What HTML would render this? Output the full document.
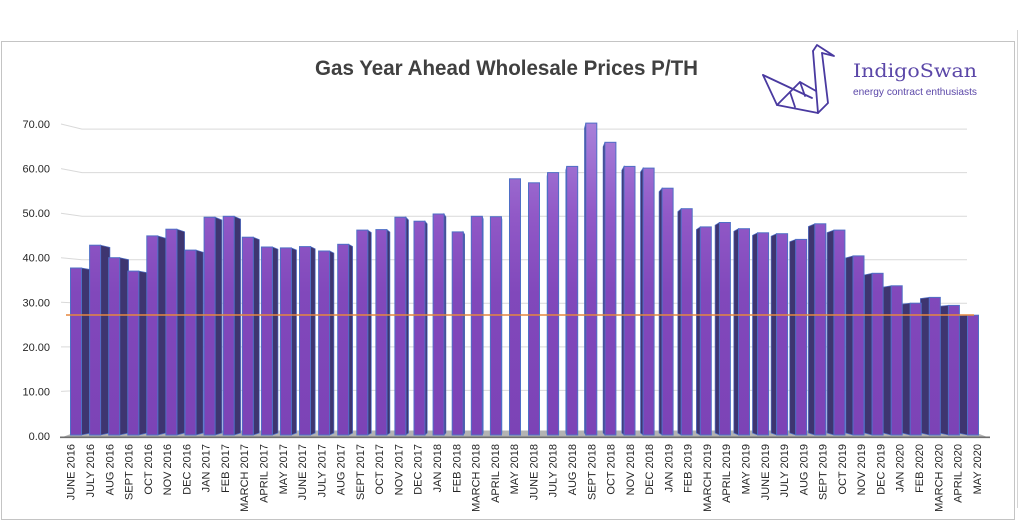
<!DOCTYPE html>
<html>
<head>
<meta charset="utf-8">
<style>
html,body{margin:0;padding:0;background:#fff;}
svg{display:block;}
text{font-family:"Liberation Sans",Arial,sans-serif;}
</style>
</head>
<body>
<svg width="1019" height="522" viewBox="0 0 1019 522" xmlns="http://www.w3.org/2000/svg">
<defs>
<linearGradient id="fg" gradientUnits="userSpaceOnUse" x1="0" y1="120" x2="0" y2="436">
<stop offset="0" stop-color="#a982da"/>
<stop offset="0.3" stop-color="#9159c7"/>
<stop offset="0.55" stop-color="#8148bb"/>
<stop offset="1" stop-color="#7c43b6"/>
</linearGradient>
</defs>
<rect x="0" y="0" width="1019" height="522" fill="#fff"/>
<rect x="1.5" y="41.5" width="1013" height="478" fill="none" stroke="#c4c4c4" stroke-width="1"/>
<line x1="1017.5" y1="30" x2="1017.5" y2="508" stroke="#d4d4d4" stroke-width="1"/>

<!-- title -->
<text x="506.5" y="75" text-anchor="middle" font-size="21.5" font-weight="bold" fill="#404040" textLength="383" lengthAdjust="spacingAndGlyphs">Gas Year Ahead Wholesale Prices P/TH</text>

<!-- logo -->
<g fill="none" stroke="#4a3aa0" stroke-width="1.8" stroke-linejoin="round" stroke-linecap="round">
<polyline points="813,51 817,45 834,56 822,53"/>
<line x1="813" y1="51" x2="818" y2="113"/>
<polyline points="822,53 828,103 818,113"/>
<polyline points="763,75 777,105 818,113"/>
<line x1="763" y1="75" x2="812" y2="98"/>
<polyline points="777,105 790,92 800,82 816,91"/>
<line x1="790" y1="92" x2="795" y2="107"/>
<line x1="800" y1="82" x2="805" y2="96"/>
</g>
<text x="853" y="77" style="font-family:'DejaVu Serif','Liberation Serif',serif;" font-size="19" fill="#5b47a8" textLength="124" lengthAdjust="spacingAndGlyphs">IndigoSwan</text>
<text x="853" y="95" font-size="10.5" fill="#5b47a8" textLength="124" lengthAdjust="spacingAndGlyphs">energy contract enthusiasts</text>

<!-- gridlines -->
<g fill="none" stroke="#d9d9d9" stroke-width="1">
<polyline points="61,124 82,129.1 967,129.1"/>
<polyline points="61,168.6 82,172.6 967,172.6"/>
<polyline points="61,213.2 82,216.2 967,216.2"/>
<polyline points="61,257.7 82,259.7 967,259.7"/>
<polyline points="61,302.3 82,303.3 967,303.3"/>
<polyline points="61,346.9 82,346.9 967,346.9"/>
<polyline points="61,391.4 82,390.4 967,390.4"/>
</g>

<!-- y labels -->
<g font-size="11" fill="#262626" text-anchor="end">
<text x="50" y="128">70.00</text>
<text x="50" y="172.6">60.00</text>
<text x="50" y="217.2">50.00</text>
<text x="50" y="261.7">40.00</text>
<text x="50" y="306.3">30.00</text>
<text x="50" y="350.9">20.00</text>
<text x="50" y="395.4">10.00</text>
<text x="50" y="440">0.00</text>
</g>

<!-- floor -->
<polygon points="60,438 990,438 970,430.5 80,430.5" fill="#b3b3b3"/>
<line x1="60" y1="437.3" x2="990" y2="437.3" stroke="#6e6e6e" stroke-width="1.6"/>

<!-- side faces -->
<g fill="#3e3570" stroke="#4f6fc6" stroke-width="0.7">
<polygon points="81.5,268 91.3,269.7 91.3,433 81.5,435"/>
<polygon points="100.6,245.2 109.9,247.4 109.9,433 100.6,435"/>
<polygon points="119.7,257.7 128.6,259.6 128.6,433 119.7,435"/>
<polygon points="138.8,271.1 147.3,272.7 147.3,433 138.8,435"/>
<polygon points="157.8,235.9 165.9,238.3 165.9,433 157.8,435"/>
<polygon points="176.9,229.2 184.6,231.7 184.6,433 176.9,435"/>
<polygon points="196,250.1 203.2,252.2 203.2,433 196,435"/>
<polygon points="215.1,217.2 221.9,220 221.9,433 215.1,435"/>
<polygon points="234.2,216.3 240.6,219.1 240.6,433 234.2,435"/>
<polygon points="253.3,237.2 259.3,239.6 259.3,433 253.3,435"/>
<polygon points="272.4,247 278,249.2 278,433 272.4,435"/>
<polygon points="291.4,247.9 296.5,250 296.5,433 291.4,435"/>
<polygon points="310.5,246.6 315.2,248.8 315.2,433 310.5,435"/>
<polygon points="329.6,251 333.9,253.1 333.9,433 329.6,435"/>
<polygon points="348.7,244.3 352.6,246.5 352.6,433 348.7,435"/>
<polygon points="367.8,230.1 371.3,232.6 371.3,433 367.8,435"/>
<polygon points="386.9,229.6 389.9,232.1 389.9,433 386.9,435"/>
<polygon points="405.9,217.2 408.5,220 408.5,433 405.9,435"/>
<polygon points="425,221.2 427.2,223.9 427.2,433 425,435"/>
<polygon points="444.1,214 445.9,216.9 445.9,433 444.1,435"/>
<polygon points="463.2,231.9 464.6,234.4 464.6,433 463.2,435"/>
<polygon points="482.3,216.3 483.2,219.1 483.2,433 482.3,435"/>
<polygon points="501.4,216.7 501.9,219.5 501.9,433 501.4,435"/>
<polygon points="547.6,172.6 547.1,176.4 547.1,433 547.6,435"/>
<polygon points="566.7,166.4 565.8,170.3 565.8,433 566.7,435"/>
<polygon points="585.8,123.1 584.5,128 584.5,433 585.8,435"/>
<polygon points="604.9,142.3 603.1,146.8 603.1,433 604.9,435"/>
<polygon points="624,166.4 621.8,170.3 621.8,433 624,435"/>
<polygon points="643.1,168.1 640.5,172 640.5,433 643.1,435"/>
<polygon points="662.1,188.2 659.1,191.7 659.1,433 662.1,435"/>
<polygon points="681.2,208.7 677.8,211.7 677.8,433 681.2,435"/>
<polygon points="700.3,226.9 696.4,229.5 696.4,433 700.3,435"/>
<polygon points="719.4,222.5 715.1,225.2 715.1,433 719.4,435"/>
<polygon points="738.5,228.7 733.8,231.3 733.8,433 738.5,435"/>
<polygon points="757.6,232.8 752.5,235.3 752.5,433 757.6,435"/>
<polygon points="776.6,233.7 771.1,236.2 771.1,433 776.6,435"/>
<polygon points="795.7,239.4 789.7,241.7 789.7,433 795.7,435"/>
<polygon points="814.8,223.8 808.4,226.5 808.4,433 814.8,435"/>
<polygon points="833.9,230.1 827.1,232.6 827.1,433 833.9,435"/>
<polygon points="853,255.9 845.8,257.9 845.8,433 853,435"/>
<polygon points="872.1,273.3 864.5,274.9 864.5,433 872.1,435"/>
<polygon points="891.2,285.8 883.1,287.1 883.1,433 891.2,435"/>
<polygon points="910.2,303.2 901.7,304.1 901.7,433 910.2,435"/>
<polygon points="929.3,297.4 920.4,298.5 920.4,433 929.3,435"/>
<polygon points="948.4,305.4 939.1,306.3 939.1,433 948.4,435"/>
<polygon points="967.5,315.2 957.8,315.9 957.8,433 967.5,435"/>
</g>

<!-- front faces -->
<g fill="url(#fg)" stroke="#4f6fc6" stroke-width="1">
<rect x="70.5" y="268" width="11" height="167"/>
<rect x="89.6" y="245.2" width="11" height="189.8"/>
<rect x="108.7" y="257.7" width="11" height="177.3"/>
<rect x="127.8" y="271.1" width="11" height="163.9"/>
<rect x="146.8" y="235.9" width="11" height="199.1"/>
<rect x="165.9" y="229.2" width="11" height="205.8"/>
<rect x="185" y="250.1" width="11" height="184.9"/>
<rect x="204.1" y="217.2" width="11" height="217.8"/>
<rect x="223.2" y="216.3" width="11" height="218.7"/>
<rect x="242.3" y="237.2" width="11" height="197.8"/>
<rect x="261.4" y="247" width="11" height="188"/>
<rect x="280.4" y="247.9" width="11" height="187.1"/>
<rect x="299.5" y="246.6" width="11" height="188.4"/>
<rect x="318.6" y="251" width="11" height="184"/>
<rect x="337.7" y="244.3" width="11" height="190.7"/>
<rect x="356.8" y="230.1" width="11" height="204.9"/>
<rect x="375.9" y="229.6" width="11" height="205.4"/>
<rect x="394.9" y="217.2" width="11" height="217.8"/>
<rect x="414" y="221.2" width="11" height="213.8"/>
<rect x="433.1" y="214" width="11" height="221"/>
<rect x="452.2" y="231.9" width="11" height="203.1"/>
<rect x="471.3" y="216.3" width="11" height="218.7"/>
<rect x="490.4" y="216.7" width="11" height="218.3"/>
<rect x="509.5" y="178.8" width="11" height="256.2"/>
<rect x="528.5" y="182.8" width="11" height="252.2"/>
<rect x="547.6" y="172.6" width="11" height="262.4"/>
<rect x="566.7" y="166.4" width="11" height="268.6"/>
<rect x="585.8" y="123.1" width="11" height="311.9"/>
<rect x="604.9" y="142.3" width="11" height="292.7"/>
<rect x="624" y="166.4" width="11" height="268.6"/>
<rect x="643.1" y="168.1" width="11" height="266.9"/>
<rect x="662.1" y="188.2" width="11" height="246.8"/>
<rect x="681.2" y="208.7" width="11" height="226.3"/>
<rect x="700.3" y="226.9" width="11" height="208.1"/>
<rect x="719.4" y="222.5" width="11" height="212.5"/>
<rect x="738.5" y="228.7" width="11" height="206.3"/>
<rect x="757.6" y="232.8" width="11" height="202.2"/>
<rect x="776.6" y="233.7" width="11" height="201.3"/>
<rect x="795.7" y="239.4" width="11" height="195.6"/>
<rect x="814.8" y="223.8" width="11" height="211.2"/>
<rect x="833.9" y="230.1" width="11" height="204.9"/>
<rect x="853" y="255.9" width="11" height="179.1"/>
<rect x="872.1" y="273.3" width="11" height="161.7"/>
<rect x="891.2" y="285.8" width="11" height="149.2"/>
<rect x="910.2" y="303.2" width="11" height="131.8"/>
<rect x="929.3" y="297.4" width="11" height="137.6"/>
<rect x="948.4" y="305.4" width="11" height="129.6"/>
<rect x="967.5" y="315.2" width="11" height="119.8"/>
</g>

<!-- reference line -->
<line x1="66" y1="315" x2="974" y2="315" stroke="#e5873f" stroke-width="1.5"/>

<!-- x labels -->
<g font-size="11" fill="#262626" text-anchor="end">
<text transform="translate(74.7,444) rotate(-90)">JUNE 2016</text>
<text transform="translate(94,444) rotate(-90)">JULY 2016</text>
<text transform="translate(113.3,444) rotate(-90)">AUG 2016</text>
<text transform="translate(132.5,444) rotate(-90)">SEPT 2016</text>
<text transform="translate(151.8,444) rotate(-90)">OCT 2016</text>
<text transform="translate(171.1,444) rotate(-90)">NOV 2016</text>
<text transform="translate(190.4,444) rotate(-90)">DEC 2016</text>
<text transform="translate(209.7,444) rotate(-90)">JAN 2017</text>
<text transform="translate(228.9,444) rotate(-90)">FEB 2017</text>
<text transform="translate(248.2,444) rotate(-90)">MARCH 2017</text>
<text transform="translate(267.5,444) rotate(-90)">APRIL 2017</text>
<text transform="translate(286.8,444) rotate(-90)">MAY 2017</text>
<text transform="translate(306.1,444) rotate(-90)">JUNE 2017</text>
<text transform="translate(325.3,444) rotate(-90)">JULY 2017</text>
<text transform="translate(344.6,444) rotate(-90)">AUG 2017</text>
<text transform="translate(363.9,444) rotate(-90)">SEPT 2017</text>
<text transform="translate(383.2,444) rotate(-90)">OCT 2017</text>
<text transform="translate(402.5,444) rotate(-90)">NOV 2017</text>
<text transform="translate(421.7,444) rotate(-90)">DEC 2017</text>
<text transform="translate(441,444) rotate(-90)">JAN 2018</text>
<text transform="translate(460.3,444) rotate(-90)">FEB 2018</text>
<text transform="translate(479.6,444) rotate(-90)">MARCH 2018</text>
<text transform="translate(498.9,444) rotate(-90)">APRIL 2018</text>
<text transform="translate(518.1,444) rotate(-90)">MAY 2018</text>
<text transform="translate(537.4,444) rotate(-90)">JUNE 2018</text>
<text transform="translate(556.7,444) rotate(-90)">JULY 2018</text>
<text transform="translate(576,444) rotate(-90)">AUG 2018</text>
<text transform="translate(595.3,444) rotate(-90)">SEPT 2018</text>
<text transform="translate(614.5,444) rotate(-90)">OCT 2018</text>
<text transform="translate(633.8,444) rotate(-90)">NOV 2018</text>
<text transform="translate(653.1,444) rotate(-90)">DEC 2018</text>
<text transform="translate(672.4,444) rotate(-90)">JAN 2019</text>
<text transform="translate(691.7,444) rotate(-90)">FEB 2019</text>
<text transform="translate(710.9,444) rotate(-90)">MARCH 2019</text>
<text transform="translate(730.2,444) rotate(-90)">APRIL 2019</text>
<text transform="translate(749.5,444) rotate(-90)">MAY 2019</text>
<text transform="translate(768.8,444) rotate(-90)">JUNE 2019</text>
<text transform="translate(788.1,444) rotate(-90)">JULY 2019</text>
<text transform="translate(807.3,444) rotate(-90)">AUG 2019</text>
<text transform="translate(826.6,444) rotate(-90)">SEPT 2019</text>
<text transform="translate(845.9,444) rotate(-90)">OCT 2019</text>
<text transform="translate(865.2,444) rotate(-90)">NOV 2019</text>
<text transform="translate(884.5,444) rotate(-90)">DEC 2019</text>
<text transform="translate(903.7,444) rotate(-90)">JAN 2020</text>
<text transform="translate(923,444) rotate(-90)">FEB 2020</text>
<text transform="translate(942.3,444) rotate(-90)">MARCH 2020</text>
<text transform="translate(961.6,444) rotate(-90)">APRIL 2020</text>
<text transform="translate(980.9,444) rotate(-90)">MAY 2020</text>
</g>
</svg>
</body>
</html>
